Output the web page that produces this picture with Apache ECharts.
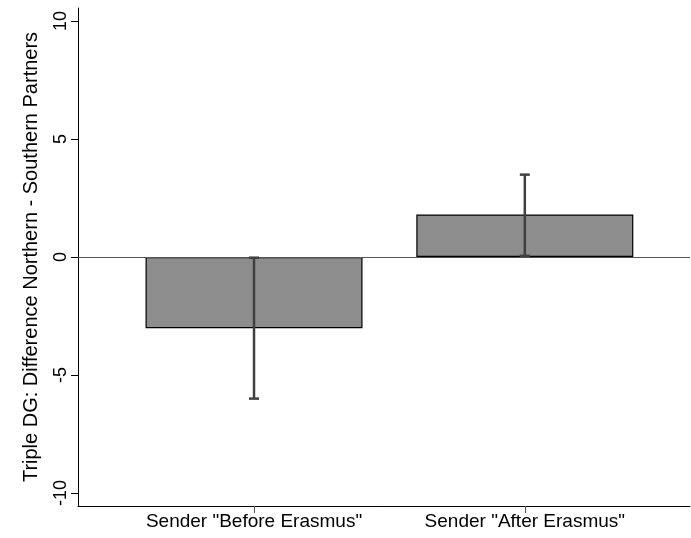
<!DOCTYPE html>
<html>
<head>
    <meta charset="UTF-8">
    <title>Triple DG</title>
    <script type="text/javascript" src="https://cdn.jsdelivr.net/npm/echarts@6/dist/echarts.min.js"></script>
</head>
<body style="margin: 0;background: #fff;">
<div id="chart" style="width:691px;height:538px;"></div>
<script>
    var categories = ['Sender "Before Erasmus"', 'Sender "After Erasmus"'];
    var positions = [1, 2];
    var means = [-3.02, 1.80];
    var ciLow = [-6.0, 0.05];
    var ciHigh = [-0.03, 3.49];
    var yTicks = [-10, -5, 0, 5, 10];

    var barData = positions.map(function (p, i) { return [p, means[i]]; });
    var errData = positions.map(function (p, i) { return [p, ciLow[i], ciHigh[i]]; });

    var chart = echarts.init(document.getElementById("chart"));
    chart.setOption({
        animation: false,
        textStyle: {fontFamily: 'Liberation Sans, Arial, sans-serif'},
        grid: {left: 78, right: 1, top: 8, bottom: 32},
        xAxis: {
            type: 'value',
            min: 0.35,
            max: 2.61,
            splitLine: {show: false},
            axisLine: {onZero: false, lineStyle: {color: '#000', width: 1}},
            axisTick: {customValues: positions, length: 7, lineStyle: {color: '#555'}},
            axisLabel: {
                customValues: positions,
                color: '#000',
                fontSize: 19,
                margin: 6,
                formatter: function (v) {
                    var i = positions.indexOf(Math.round(v));
                    return i >= 0 ? categories[i] : '';
                }
            }
        },
        yAxis: {
            type: 'value',
            min: -10.55,
            max: 10.55,
            name: 'Triple DG: Difference Northern - Southern Partners',
            nameLocation: 'middle',
            nameGap: 37,
            nameRotate: 90,
            nameTextStyle: {color: '#000', fontSize: 20},
            splitLine: {show: false},
            axisLine: {show: true, onZero: false, lineStyle: {color: '#000', width: 1}},
            axisTick: {show: true, customValues: yTicks, length: 7, lineStyle: {color: '#000'}},
            axisLabel: {
                customValues: yTicks,
                rotate: 90,
                color: '#000',
                fontSize: 18,
                margin: 8
            }
        },
        series: [
            {
                type: 'bar',
                data: barData,
                barWidth: 217,
                itemStyle: {color: '#8d8d8d', borderColor: '#000', borderWidth: 1.2},
                markLine: {
                    silent: true,
                    symbol: 'none',
                    label: {show: false},
                    lineStyle: {color: '#555', width: 1, type: 'solid'},
                    data: [{yAxis: 0}]
                }
            },
            {
                type: 'custom',
                data: errData,
                z: 5,
                renderItem: function (params, api) {
                    var x = api.value(0);
                    var lo = api.coord([x, api.value(1)]);
                    var hi = api.coord([x, api.value(2)]);
                    var half = 5;
                    var style = {stroke: '#404040', lineWidth: 2.5};
                    return {
                        type: 'group',
                        children: [
                            {type: 'line', shape: {x1: lo[0], y1: lo[1], x2: hi[0], y2: hi[1]}, style: style},
                            {type: 'line', shape: {x1: lo[0] - half, y1: lo[1], x2: lo[0] + half, y2: lo[1]}, style: style},
                            {type: 'line', shape: {x1: hi[0] - half, y1: hi[1], x2: hi[0] + half, y2: hi[1]}, style: style}
                        ]
                    };
                }
            }
        ]
    });
</script>
</body>
</html>
